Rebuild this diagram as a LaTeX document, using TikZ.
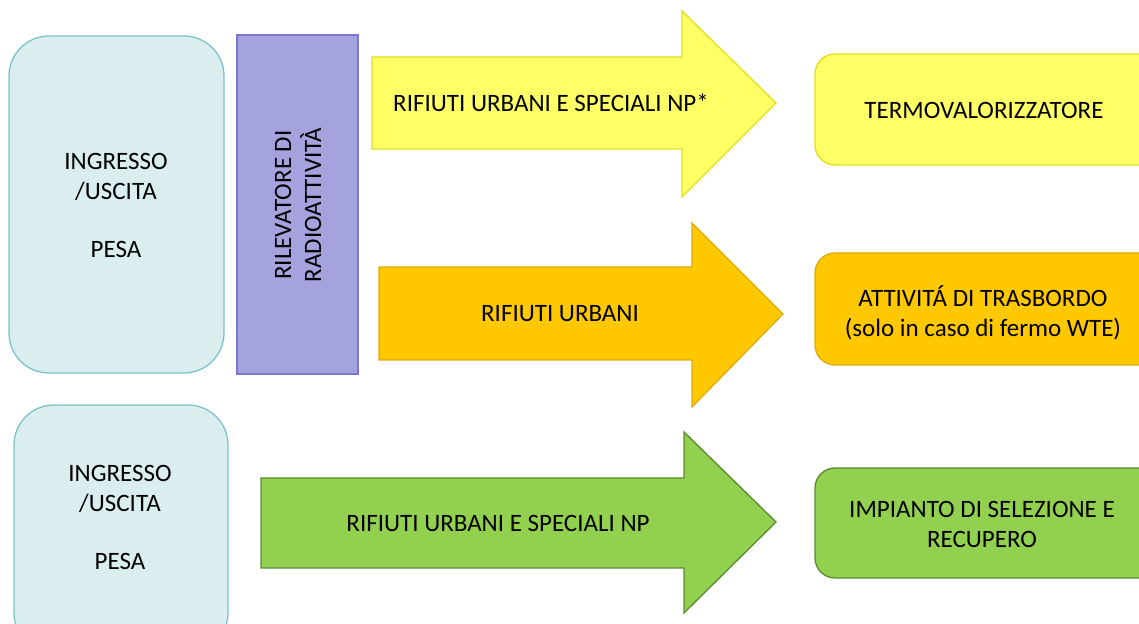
\documentclass[tikz,border=0pt]{standalone}
\usepackage{fontspec}
\setmainfont{Carlito}
\definecolor{tealfill}{HTML}{DAEEEF}
\definecolor{tealline}{HTML}{7CC3C8}
\definecolor{purfill}{HTML}{A5A3DE}
\definecolor{purline}{HTML}{7A77D0}
\definecolor{yelfill}{HTML}{FFFF66}
\definecolor{yelline}{HTML}{E3DD1E}
\definecolor{orafill}{HTML}{FFC800}
\definecolor{oraline}{HTML}{DDAA10}
\definecolor{grefill}{HTML}{92D050}
\definecolor{greline}{HTML}{5B8A2C}
\begin{document}
\begin{tikzpicture}[x=1pt,y=1pt,
  lbl/.style={font=\fontsize{25}{30}\selectfont, align=center, text=black, inner sep=0},
  gate/.style={draw=tealline, fill=tealfill, line width=1.3pt, rounded corners=40pt},
  dest/.style={line width=1.3pt, rounded corners=20pt}]
\useasboundingbox (0,0) rectangle (1139,623);
\clip (0,0) rectangle (1139,623);
% left gates
\draw[gate] (9,250) rectangle (224,587);
\node[lbl] (g1) at (116,418) {INGRESSO\\/USCITA\\[28pt]PESA};
\draw[gate] (14,-30) rectangle (228,218);
\node[lbl] (g2) at (120,106) {INGRESSO\\/USCITA\\[28pt]PESA};
% radioactivity detector
\draw[draw=purline, fill=purfill, line width=1.3pt] (237,249) rectangle (358,588);
\node[lbl, rotate=90] (rad) at (298,418) {RILEVATORE DI\\RADIOATTIVITÀ};
% yellow arrow
\draw[draw=yelline, fill=yelfill, line width=1.3pt]
  (372,566) -- (682,566) -- (682,612) -- (776,520) -- (682,426) -- (682,474) -- (372,474) -- cycle;
\node[lbl] (a1) at (551,520) {RIFIUTI URBANI E SPECIALI NP*};
% orange arrow
\draw[draw=oraline, fill=orafill, line width=1.3pt]
  (379,356) -- (692,356) -- (692,400) -- (783,309) -- (692,216) -- (692,263) -- (379,263) -- cycle;
\node[lbl] (a2) at (560,309) {RIFIUTI URBANI};
% green arrow
\draw[draw=greline, fill=grefill, line width=1.3pt]
  (261,145) -- (684,145) -- (684,191) -- (776,101) -- (684,10) -- (684,55) -- (261,55) -- cycle;
\node[lbl] (a3) at (498,100) {RIFIUTI URBANI E SPECIALI NP};
% destinations
\draw[dest, draw=yelline, fill=yelfill] (815,458) rectangle (1170,569);
\node[lbl] (d1) at (984,513) {TERMOVALORIZZATORE};
\draw[dest, draw=oraline, fill=orafill] (815,258) rectangle (1170,370);
\node[lbl] (d2) at (983,310) {ATTIVITÁ DI TRASBORDO\\(solo in caso di fermo WTE)};
\draw[dest, draw=greline, fill=grefill] (815,45) rectangle (1170,155);
\node[lbl] (d3) at (982,99) {IMPIANTO DI SELEZIONE E\\RECUPERO};
\end{tikzpicture}
\end{document}
